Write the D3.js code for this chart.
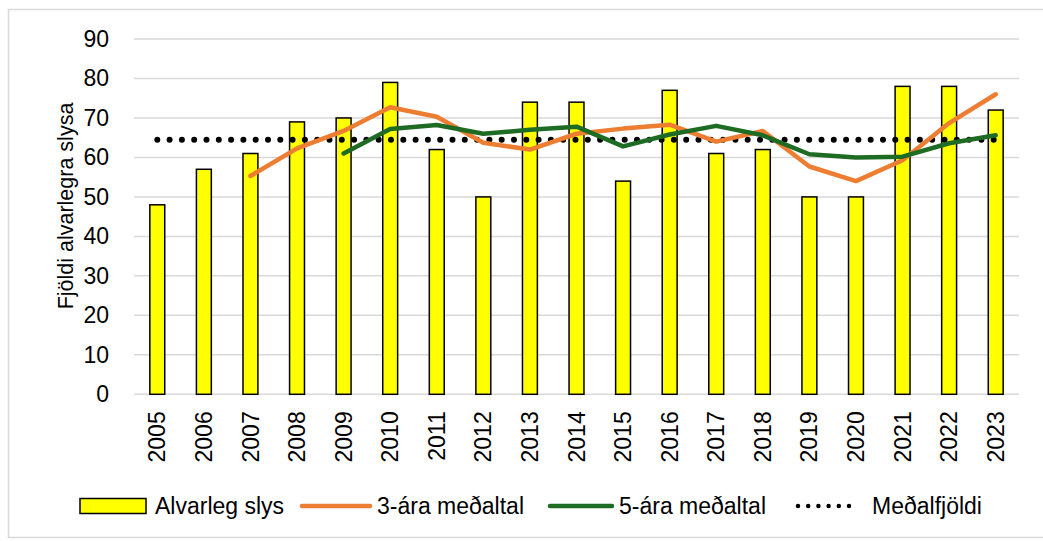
<!DOCTYPE html>
<html>
<head>
<meta charset="utf-8">
<script src="https://cdn.jsdelivr.net/npm/d3@7"></script>
<style>
  body { margin: 0; background: #fff; }
  svg text { font-family: "Liberation Sans", Arial, sans-serif; fill: #000; }
</style>
</head>
<body>
<svg id="chart"></svg>
<script>
// data
const years = ['2005','2006','2007','2008','2009','2010','2011','2012','2013','2014',
               '2015','2016','2017','2018','2019','2020','2021','2022','2023'];
const slys = [48, 57, 61, 69, 70, 79, 62, 50, 74, 74, 54, 77, 61, 62, 50, 50, 78, 78, 72];
// 3-year average, starts 2007
const avg3 = [null, null, 55.3, 62.3, 66.7, 72.7, 70.3, 63.7, 62, 66, 67.3, 68.3, 64, 66.7, 57.7, 54, 59.3, 68.7, 76];
// 5-year average, starts 2009
const avg5 = [null, null, null, null, 61, 67.2, 68.2, 66, 67, 67.8, 62.8, 65.8, 68, 65.6, 60.8, 60, 60.2, 63.6, 65.6];
const medal = 64.5;
const yTicks = [0, 10, 20, 30, 40, 50, 60, 70, 80, 90];
const legendLabels = ['Alvarleg slys', '3-ára meðaltal', '5-ára meðaltal', 'Meðalfjöldi'];

const W = 1043, H = 541;
const margin = {top: 39, right: 24, bottom: 147, left: 134};
const innerW = 885, innerH = 355.3;

const svg = d3.select('#chart').attr('width', W).attr('height', H);

// chart frame
svg.append('rect')
    .attr('x', 8.5).attr('y', 9.5)
    .attr('width', W).attr('height', 528)
    .attr('fill', 'none')
    .attr('stroke', '#d9d9d9')
    .attr('stroke-width', 1.5);

const g = svg.append('g').attr('transform', 'translate(' + margin.left + ',' + margin.top + ')');

const x = d3.scaleBand().domain(years).range([0, innerW]).paddingInner(0.68).paddingOuter(0.34);
const y = d3.scaleLinear().domain([0, 90]).range([innerH, 0]);
const cx = d => x(d) + x.bandwidth() / 2;

// gridlines
g.append('g').selectAll('line')
    .data(yTicks)
    .enter().append('line')
    .attr('x1', 0).attr('x2', innerW)
    .attr('y1', d => y(d)).attr('y2', d => y(d))
    .attr('stroke', '#d9d9d9')
    .attr('stroke-width', 1.5);

// y axis labels
const yAxis = g.append('g')
    .call(d3.axisLeft(y).tickValues(yTicks).tickSize(0).tickPadding(25));
yAxis.select('.domain').remove();
yAxis.selectAll('text')
    .attr('font-size', '23px');

// x axis labels (rotated)
const xAxis = g.append('g')
    .attr('transform', 'translate(0,' + innerH + ')')
    .call(d3.axisBottom(x).tickSize(0));
xAxis.select('.domain').remove();
xAxis.selectAll('text')
    .attr('font-size', '23px')
    .attr('transform', 'rotate(-90)')
    .attr('text-anchor', 'end')
    .attr('x', -17)
    .attr('y', 0)
    .attr('dy', '0.35em');

// y title
svg.append('text')
    .attr('transform', 'translate(65,206) rotate(-90)')
    .attr('text-anchor', 'middle')
    .attr('dy', '0.35em')
    .attr('font-size', '21.5px')
    .text('Fjöldi alvarlegra slysa');

// bars
g.append('g').selectAll('rect')
    .data(slys)
    .enter().append('rect')
    .attr('x', (d, i) => x(years[i]))
    .attr('y', d => y(d))
    .attr('width', x.bandwidth())
    .attr('height', d => innerH - y(d))
    .attr('fill', '#ffff00')
    .attr('stroke', '#000')
    .attr('stroke-width', 1.5);

// mean line (dotted)
g.append('line')
    .attr('x1', cx(years[0])).attr('x2', cx(years[years.length - 1]))
    .attr('y1', y(medal)).attr('y2', y(medal))
    .attr('stroke', '#000')
    .attr('stroke-width', 6)
    .attr('stroke-linecap', 'round')
    .attr('stroke-dasharray', '0 12.3');

const line = d3.line()
    .defined(d => d != null)
    .x((d, i) => cx(years[i]))
    .y(d => y(d));

g.append('path')
    .attr('d', line(avg3))
    .attr('fill', 'none')
    .attr('stroke', '#ed7d31')
    .attr('stroke-width', 4.5)
    .attr('stroke-linecap', 'round')
    .attr('stroke-linejoin', 'round');

g.append('path')
    .attr('d', line(avg5))
    .attr('fill', 'none')
    .attr('stroke', '#1e6b24')
    .attr('stroke-width', 4.5)
    .attr('stroke-linecap', 'round')
    .attr('stroke-linejoin', 'round');

// legend
const lg = svg.append('g').attr('class', 'legend');
const ly = 506;
const items = [
  {x: 80, tx: 155},
  {x: 300, tx: 377},
  {x: 548, tx: 619},
  {x: 796, tx: 872}
];
lg.append('rect')
    .attr('x', items[0].x).attr('y', ly - 7.5)
    .attr('width', 66).attr('height', 15)
    .attr('fill', '#ffff00').attr('stroke', '#000').attr('stroke-width', 1.5);
lg.append('line')
    .attr('x1', items[1].x + 2).attr('x2', items[1].x + 70)
    .attr('y1', ly).attr('y2', ly)
    .attr('stroke', '#ed7d31').attr('stroke-width', 4.5).attr('stroke-linecap', 'round');
lg.append('line')
    .attr('x1', items[2].x + 2).attr('x2', items[2].x + 64)
    .attr('y1', ly).attr('y2', ly)
    .attr('stroke', '#1e6b24').attr('stroke-width', 4.5).attr('stroke-linecap', 'round');
lg.append('line')
    .attr('x1', items[3].x + 2).attr('x2', items[3].x + 63)
    .attr('y1', ly).attr('y2', ly)
    .attr('stroke', '#000').attr('stroke-width', 4.5).attr('stroke-linecap', 'round')
    .attr('stroke-dasharray', '0 10.2');
lg.selectAll('text.lbl')
    .data(legendLabels)
    .enter().append('text')
    .attr('class', 'lbl')
    .attr('x', (d, i) => items[i].tx)
    .attr('y', ly)
    .attr('dy', '0.35em')
    .attr('font-size', '23px')
    .text(d => d);
</script>
</body>
</html>
